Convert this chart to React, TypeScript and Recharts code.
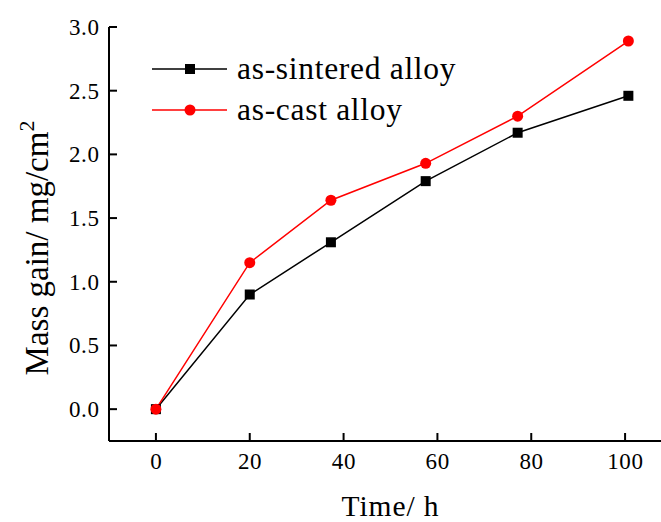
import { LineChart, Line, XAxis, YAxis, Legend } from "recharts";

const hours = [0, 20, 37.3, 57.5, 77.1, 100.7];
const sinteredGain = [0, 0.9, 1.31, 1.79, 2.17, 2.46];
const castGain = [0, 1.15, 1.64, 1.93, 2.3, 2.89];
const timeTicks = [0, 20, 40, 60, 80, 100];
const gainTicks = [0, 0.5, 1, 1.5, 2, 2.5, 3];
const seriesNames = ["as-sintered alloy", "as-cast alloy"];

const data = hours.map((t, i) => ({
  time: t,
  sintered: sinteredGain[i],
  cast: castGain[i],
}));

const SERIF = "'Liberation Serif', 'Times New Roman', serif";

const SquareDot = (props: any) => {
  const { cx, cy, index } = props;
  if (cx == null || cy == null) return null;
  return <rect key={`sq-${index}`} x={cx - 5} y={cy - 5} width={10} height={10} fill="#000" />;
};

const RoundDot = (props: any) => {
  const { cx, cy, index } = props;
  if (cx == null || cy == null) return null;
  return <circle key={`ci-${index}`} cx={cx} cy={cy} r={5.5} fill="#ff0000" />;
};

// ticks point into the frame, labels sit outside
const TimeTick = ({ x, y, payload }: any) => (
  <g>
    <line x1={x} x2={x} y1={y} y2={y - 8} stroke="#000" strokeWidth={2} />
    <text x={x + 0.3} y={y + 28} textAnchor="middle" fontFamily={SERIF} fontSize={23} letterSpacing={0.6} fill="#000">
      {payload.value}
    </text>
  </g>
);

const GainTick = ({ x, y, payload }: any) => (
  <g>
    <line x1={x} x2={x + 8} y1={y} y2={y} stroke="#000" strokeWidth={2} />
    <text x={x - 9.5} y={y + 8} textAnchor="end" fontFamily={SERIF} fontSize={23} letterSpacing={0.6} fill="#000">
      {Number(payload.value).toFixed(1)}
    </text>
  </g>
);

const TimeTitle = ({ viewBox }: any) => (
  <text
    x={viewBox.x + viewBox.width / 2}
    y={viewBox.y + 75}
    textAnchor="middle"
    fontFamily={SERIF}
    fontSize={29.5}
    letterSpacing={0.9}
    fill="#000"
  >
    Time/ h
  </text>
);

const GainTitle = ({ viewBox }: any) => {
  const x = viewBox.x - 1;
  const y = viewBox.y + 221;
  return (
    <text
      x={x}
      y={y}
      transform={`rotate(-90 ${x} ${y})`}
      textAnchor="middle"
      fontFamily={SERIF}
      fontSize={33}
      fill="#000"
    >
      Mass gain/ mg/cm
      <tspan fontSize={22} dy={-14}>2</tspan>
    </text>
  );
};

const LegendBox = ({ payload }: any) => {
  const rows = [...(payload || [])].sort(
    (a: any, b: any) => seriesNames.indexOf(a.value) - seriesNames.indexOf(b.value)
  );
  return (
    <svg width={340} height={82} style={{ display: "block" }}>
      {rows.map((entry: any, i: number) => {
        const cy = 20 + i * 41;
        return (
          <g key={entry.value}>
            <line x1={0} x2={75} y1={cy} y2={cy} stroke={entry.color} strokeWidth={1.5} />
            {entry.type === "square" ? (
              <rect x={33} y={cy - 5} width={10} height={10} fill={entry.color} />
            ) : (
              <circle cx={38} cy={cy} r={5.5} fill={entry.color} />
            )}
            <text x={85} y={cy + 10} fontFamily={SERIF} fontSize={31.5} letterSpacing={0.7} fill="#000">
              {entry.value}
            </text>
          </g>
        );
      })}
    </svg>
  );
};

export default function App() {
  return (
    <div
      style={{
        position: "absolute",
        left: 0,
        top: 0,
        width: 661,
        height: 522,
        overflow: "hidden",
        background: "#fff",
      }}
    >
      <LineChart
        width={700}
        height={522}
        data={data}
        margin={{ top: 27, right: 28, left: 49, bottom: 51 }}
      >
        <XAxis
          dataKey="time"
          type="number"
          domain={[-10, 110]}
          ticks={timeTicks}
          interval={0}
          height={30}
          tickSize={0}
          tickMargin={0}
          tickLine={false}
          tick={<TimeTick />}
          axisLine={{ stroke: "#000", strokeWidth: 2 }}
          allowDataOverflow
          label={<TimeTitle />}
        />
        <XAxis
          xAxisId="top"
          orientation="top"
          type="number"
          domain={[-10, 110]}
          height={0}
          tick={false}
          tickLine={false}
          axisLine={{ stroke: "#000", strokeWidth: 2 }}
        />
        <YAxis
          type="number"
          domain={[-0.25, 3]}
          ticks={gainTicks}
          interval={0}
          width={60}
          tickSize={0}
          tickMargin={0}
          tickLine={false}
          tick={<GainTick />}
          axisLine={{ stroke: "#000", strokeWidth: 2 }}
          allowDataOverflow
          label={<GainTitle />}
        />
        <YAxis
          yAxisId="right"
          orientation="right"
          type="number"
          domain={[-0.25, 3]}
          width={0}
          tick={false}
          tickLine={false}
          axisLine={{ stroke: "#000", strokeWidth: 2 }}
        />
        <Legend
          layout="vertical"
          align="center"
          verticalAlign="middle"
          wrapperStyle={{ left: 152, top: 49, width: 340, height: 82 }}
          content={<LegendBox />}
        />
        <Line
          dataKey="sintered"
          name={seriesNames[0]}
          stroke="#000"
          strokeWidth={1.5}
          legendType="square"
          dot={SquareDot}
          activeDot={false}
          isAnimationActive={false}
        />
        <Line
          dataKey="cast"
          name={seriesNames[1]}
          stroke="#ff0000"
          strokeWidth={1.5}
          legendType="circle"
          dot={RoundDot}
          activeDot={false}
          isAnimationActive={false}
        />
      </LineChart>
    </div>
  );
}
